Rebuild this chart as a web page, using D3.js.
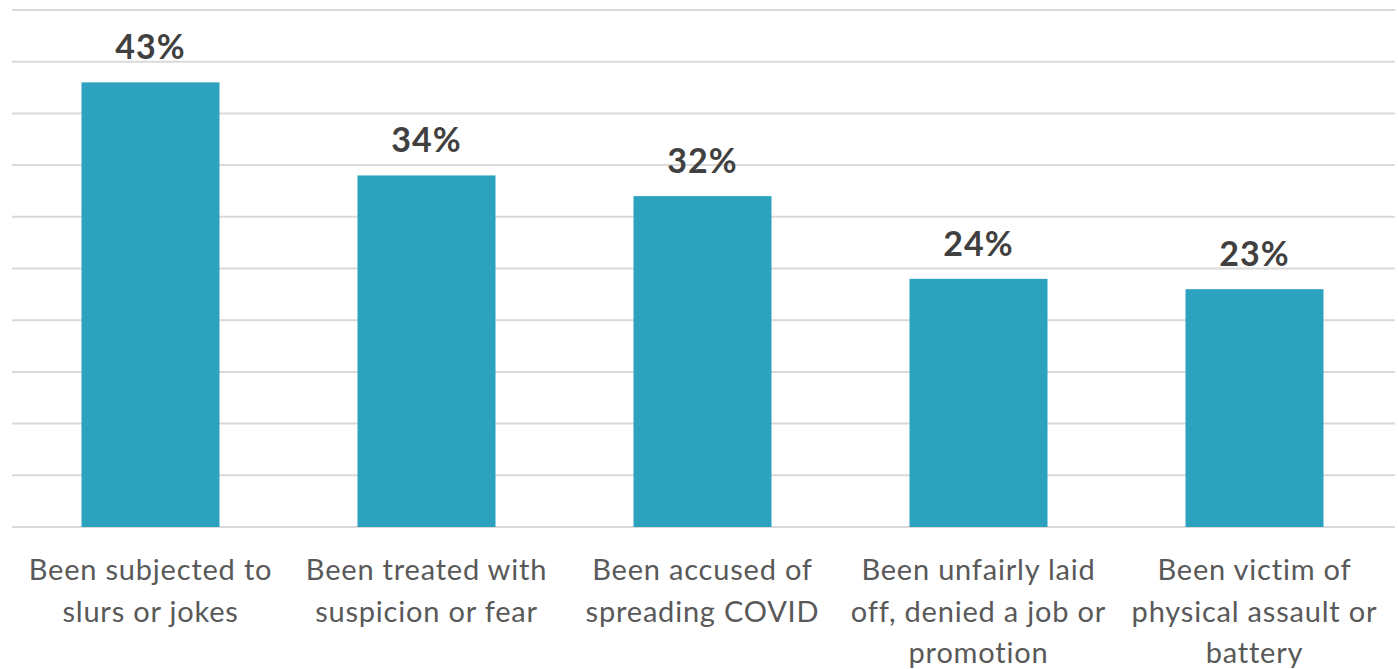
<!DOCTYPE html>
<html><head><meta charset="utf-8">
<script src="https://cdn.jsdelivr.net/npm/d3@7"></script>
<style>body{margin:0;background:#fff;} svg{display:block;}</style>
</head><body>
<svg id="chart" width="1398" height="669"></svg>
<script>
const categories = [
  ["Been subjected to", "slurs or jokes"],
  ["Been treated with", "suspicion or fear"],
  ["Been accused of", "spreading COVID"],
  ["Been unfairly laid", "off, denied a job or", "promotion"],
  ["Been victim of", "physical assault or", "battery"]
];
const values = [43, 34, 32, 24, 23];
const valueLabels = ["43%", "34%", "32%", "24%", "23%"];
const gridTicks = [0, 5, 10, 15, 20, 25, 30, 35, 40, 45, 50];

const svg = d3.select("#chart");
const font = "Lato, 'Open Sans', sans-serif";
const x = d3.scaleBand().domain(d3.range(values.length)).range([12.5, 1392.5]).paddingInner(0.5).paddingOuter(0.25);
const y = d3.scaleLinear().domain([0, 50]).range([527, 10]);

svg.append("g").selectAll("line").data(gridTicks).join("line")
  .attr("x1", 12).attr("x2", 1395)
  .attr("y1", d => y(d)).attr("y2", d => y(d))
  .attr("stroke", "#d9d9d9").attr("stroke-width", 2);

svg.append("g").selectAll("rect").data(values).join("rect")
  .attr("x", (d, i) => x(i)).attr("width", x.bandwidth())
  .attr("y", d => y(d)).attr("height", d => y(0) - y(d))
  .attr("fill", "#2ca2bf");

svg.append("g").selectAll("text").data(values).join("text")
  .attr("x", (d, i) => x(i) + x.bandwidth() / 2)
  .attr("y", d => y(d) - 23)
  .attr("text-anchor", "middle")
  .attr("font-family", font).attr("font-weight", "bold").attr("font-size", 34)
  .attr("letter-spacing", 1)
  .attr("fill", "#404040")
  .text((d, i) => valueLabels[i]);

const lab = svg.append("g").selectAll("text").data(categories).join("text")
  .attr("text-anchor", "middle")
  .attr("font-family", font).attr("font-size", 29)
  .attr("letter-spacing", 0.8)
  .attr("fill", "#595959");
lab.each(function(lines, i) {
  d3.select(this).selectAll("tspan").data(lines).join("tspan")
    .attr("x", x(i) + x.bandwidth() / 2)
    .attr("y", (l, j) => 580 + j * 41.5)
    .text(l => l);
});
</script>
</body></html>
